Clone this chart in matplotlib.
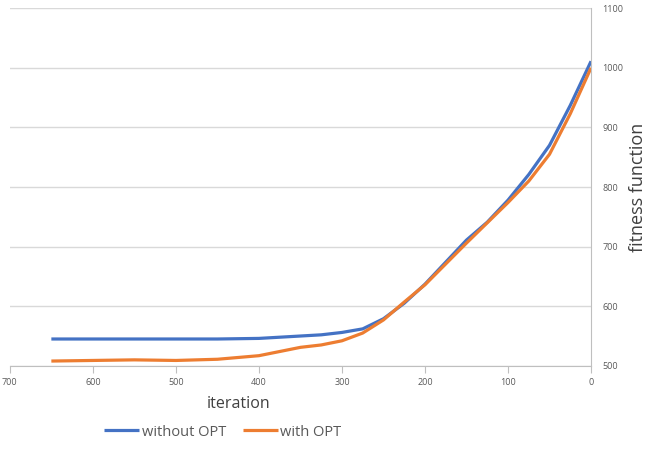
import matplotlib
matplotlib.use("Agg")
import matplotlib.pyplot as plt

iter_without = [650, 600, 550, 500, 450, 400, 375, 350, 325, 300, 275, 250, 225, 200, 175, 150, 125, 100, 75, 50, 25, 0]
fit_without = [545, 545, 545, 545, 545, 546, 548, 550, 552, 556, 562, 579, 605, 637, 674, 711, 741, 778, 821, 870, 937, 1011]

iter_with = [650, 600, 550, 500, 450, 400, 375, 350, 325, 300, 275, 250, 225, 200, 175, 150, 125, 100, 75, 50, 25, 0]
fit_with = [508, 509, 510, 509, 511, 517, 524, 531, 535, 542, 555, 577, 607, 636, 671, 706, 740, 774, 810, 855, 923, 1000]

xticks = [700, 600, 500, 400, 300, 200, 100, 0]
yticks = [500, 600, 700, 800, 900, 1000, 1100]

plt.rcParams['font.family'] = ['Open Sans', 'DejaVu Sans']

fig = plt.figure(figsize=(6.56, 4.55), dpi=100)
ax = fig.add_axes([0.015, 0.196, 0.886, 0.786])

ax.plot(iter_without, fit_without, color='#4472c4', lw=2.3, label='without OPT',
        solid_capstyle='butt', solid_joinstyle='round')
ax.plot(iter_with, fit_with, color='#ed7d31', lw=2.3, label='with OPT',
        solid_capstyle='butt', solid_joinstyle='round')

ax.set_xlim(700, 0)
ax.set_ylim(500, 1100)
ax.set_xticks(xticks)
ax.set_yticks(yticks)
ax.yaxis.tick_right()
ax.yaxis.set_label_position('right')
ax.tick_params(axis='x', colors='#bfbfbf', labelcolor='#595959', labelsize=6.5, length=5, direction='out')
ax.tick_params(axis='y', length=0, labelcolor='#595959', labelsize=6.5, pad=8)
ax.grid(axis='y', color='#d9d9d9', lw=1)
ax.set_axisbelow(True)
for s in ['top', 'left']:
    ax.spines[s].set_visible(False)
ax.spines['bottom'].set_color('#bfbfbf')
ax.spines['right'].set_color('#bfbfbf')

ax.set_ylabel('fitness function', fontsize=13, color='#404040', labelpad=4)
fig.text(239 / 656, 1 - 404 / 455, 'iteration', fontsize=11.5, color='#404040', ha='center', va='center')

fig.legend(loc='center', bbox_to_anchor=(223 / 656, 1 - 432 / 455), ncol=2, frameon=False,
           fontsize=10.5, handlelength=2.4, handletextpad=0.15, columnspacing=1.2, labelcolor='#595959')

fig.savefig('out.png', dpi=100)
